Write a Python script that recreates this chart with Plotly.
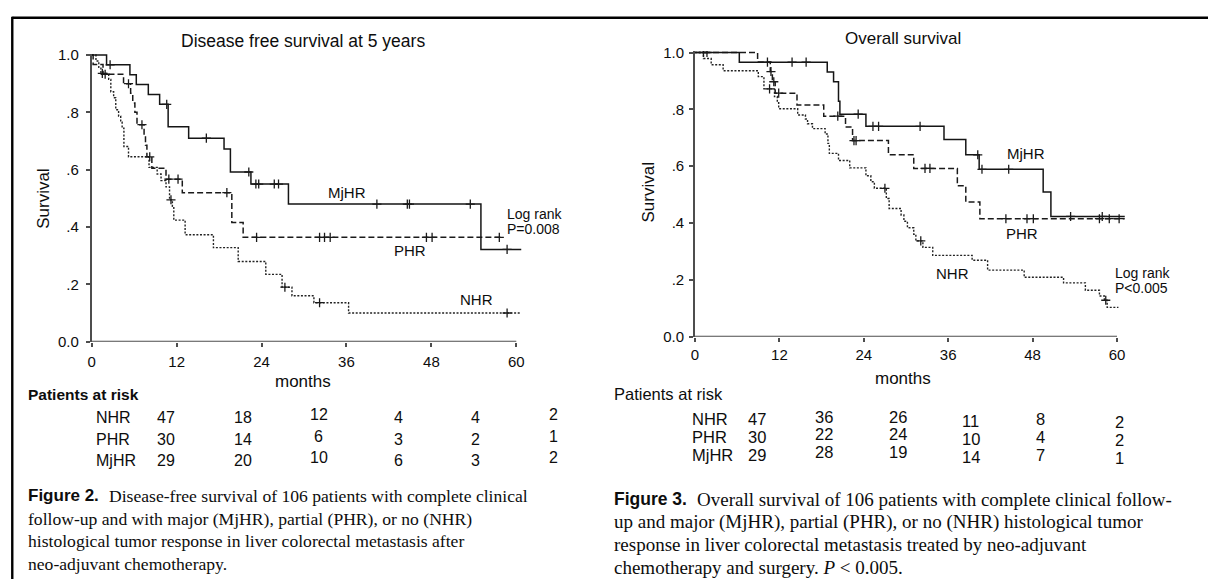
import numpy as np
import plotly.graph_objects as go

# ------------------------------------------------------------------ data
MONTH_TICKS = [0, 12, 24, 36, 48, 60]
SURV_TICKS = [0.0, 0.2, 0.4, 0.6, 0.8, 1.0]
SURV_TICKTEXT = ["0.0", ".2", ".4", ".6", ".8", "1.0"]
GROUPS = ["NHR", "PHR", "MjHR"]

# Figure 2 - disease free survival (Kaplan-Meier steps: time, survival)
dfs_mjhr_t = [0, 2.1, 5.4, 6.3, 8.0, 9.6, 10.8, 13.7, 18.7, 19.6, 22.5, 27.8, 55.0, 60.7]
dfs_mjhr_s = [1.0, 0.966, 0.931, 0.897, 0.862, 0.828, 0.750, 0.710, 0.672, 0.592, 0.550, 0.480, 0.322, 0.322]
dfs_mjhr_cens = [2.6, 10.6, 16.2, 22.2, 23.2, 23.6, 25.8, 26.4, 40.3, 44.6, 44.9, 53.5, 58.7]

dfs_phr_t = [0, 0.2, 1.6, 4.5, 5.5, 5.8, 6.1, 6.4, 7.4, 7.6, 7.8, 8.5, 10.5, 12.8, 19.8, 21.4, 58.1]
dfs_phr_s = [1.0, 0.967, 0.933, 0.900, 0.867, 0.833, 0.800, 0.757, 0.720, 0.685, 0.645, 0.605, 0.567, 0.520, 0.416, 0.364, 0.364]
dfs_phr_cens = [1.9, 5.2, 7.1, 8.2, 10.9, 12.2, 19.1, 23.3, 32.2, 32.9, 33.7, 47.3, 48.1, 57.6]

dfs_nhr_t = [0, 0.6, 1.0, 1.3, 2.4, 2.7, 3.1, 3.4, 3.8, 4.1, 4.3, 4.55, 5.2, 8.1, 9.25, 9.8, 10.5, 11.0, 11.4, 11.6,
             13.2, 17.2, 20.7, 24.6, 26.9, 28.3, 31.4, 36.3, 60.7]
dfs_nhr_s = [1.0, 0.979, 0.957, 0.936, 0.915, 0.872, 0.851, 0.809, 0.787, 0.766, 0.745, 0.681, 0.645, 0.608, 0.585,
             0.562, 0.540, 0.495, 0.472, 0.424, 0.373, 0.328, 0.280, 0.235, 0.190, 0.160, 0.136, 0.100, 0.100]
dfs_nhr_cens = [1.5, 11.2, 27.3, 32.2, 58.7]

dfs_risk_nhr = [47, 18, 12, 4, 4, 2]
dfs_risk_phr = [30, 14, 6, 3, 2, 1]
dfs_risk_mjhr = [29, 20, 10, 6, 3, 2]

# Figure 3 - overall survival
os_mjhr_t = [0, 6.3, 18.8, 19.7, 20.4, 20.6, 24.3, 35.4, 38.5, 40.4, 49.5, 50.6, 61.1]
os_mjhr_s = [1.0, 0.966, 0.931, 0.897, 0.828, 0.783, 0.740, 0.694, 0.640, 0.589, 0.509, 0.423, 0.423]
os_mjhr_cens = [1.2, 10.3, 13.8, 15.8, 23.2, 25.3, 26.1, 32.0, 40.2, 40.8, 44.6, 53.4, 57.9]

os_phr_t = [0, 8.9, 10.7, 11.0, 11.4, 14.5, 18.3, 21.4, 22.4, 27.5, 31.1, 37.3, 38.5, 40.5, 61.1]
os_phr_s = [1.0, 0.967, 0.933, 0.897, 0.857, 0.815, 0.776, 0.738, 0.690, 0.640, 0.592, 0.531, 0.474, 0.415, 0.415]
os_phr_cens = [1.7, 10.8, 11.2, 11.9, 20.3, 22.6, 22.9, 32.7, 33.4, 44.2, 47.2, 48.1, 57.5, 58.9, 60.3]

os_nhr_t = [0, 1.2, 2.3, 4.0, 9.0, 9.8, 11.3, 11.7, 11.9, 14.6, 15.7, 16.0, 16.7, 18.5, 18.9, 19.1, 20.4, 22.0,
            24.3, 25.0, 25.5, 27.2, 27.6, 29.3, 29.7, 30.2, 31.1, 31.4, 32.4, 33.8, 39.4, 41.6, 46.8, 52.4, 55.5,
            57.5, 58.2, 58.6, 60.2]
os_nhr_s = [1.0, 0.979, 0.957, 0.936, 0.915, 0.872, 0.845, 0.823, 0.802, 0.780, 0.766, 0.749, 0.732, 0.713, 0.680,
            0.645, 0.620, 0.594, 0.566, 0.545, 0.522, 0.486, 0.451, 0.428, 0.406, 0.383, 0.360, 0.337, 0.314, 0.286,
            0.269, 0.234, 0.209, 0.189, 0.163, 0.143, 0.128, 0.103, 0.103]
os_nhr_cens = [10.6, 27.0, 32.1, 58.4]

os_risk_nhr = [47, 36, 26, 11, 8, 2]
os_risk_phr = [30, 22, 24, 10, 4, 2]
os_risk_mjhr = [29, 28, 19, 14, 7, 1]

# ------------------------------------------------------------------ layout helpers
W, H = 1208, 585
SANS = "Liberation Sans, Arial, sans-serif"
SERIF = "Liberation Serif, Times New Roman, serif"
INK = "#0d0d0d"
AX = "#4d4d4d"
DX = -5  # left-anchored text offset correction


def pxx(x):
    return x / W


def pxy(y):
    return 1 - y / H


def step_at(t, s, c):
    t = np.asarray(t)
    s = np.asarray(s)
    idx = np.searchsorted(t, np.asarray(c), side="right") - 1
    return s[idx]


STYLES = {
    "MjHR": dict(color="#151515", width=1.5, dash="solid"),
    "PHR": dict(color="#1a1a1a", width=1.5, dash="6px,3px"),
    "NHR": dict(color="#222222", width=1.4, dash="2px,1.6px"),
}

fig = go.Figure()

panels = [
    ("x", "y", {"MjHR": (dfs_mjhr_t, dfs_mjhr_s, dfs_mjhr_cens),
                "PHR": (dfs_phr_t, dfs_phr_s, dfs_phr_cens),
                "NHR": (dfs_nhr_t, dfs_nhr_s, dfs_nhr_cens)}),
    ("x2", "y2", {"MjHR": (os_mjhr_t, os_mjhr_s, os_mjhr_cens),
                  "PHR": (os_phr_t, os_phr_s, os_phr_cens),
                  "NHR": (os_nhr_t, os_nhr_s, os_nhr_cens)}),
]

for xa, ya, series in panels:
    for g in ["NHR", "PHR", "MjHR"]:
        t, s, c = series[g]
        fig.add_trace(go.Scatter(x=t, y=s, mode="lines", line_shape="hv", line=STYLES[g],
                                 xaxis=xa, yaxis=ya, showlegend=False, hoverinfo="skip"))
        fig.add_trace(go.Scatter(x=c, y=step_at(t, s, c), mode="markers",
                                 marker=dict(symbol="cross-thin", size=6.5, color="#1a1a1a",
                                             line=dict(width=1.3, color="#1a1a1a")),
                                 xaxis=xa, yaxis=ya, showlegend=False, hoverinfo="skip"))

XR = [0, 61.5]
YR = [0, 1.005]
# plot areas in pixels: (x of month 0, px per month, y of 0, px per unit)
L = dict(x0=88.0, kx=7.10, y0=343.5, ky=294.2)
R = dict(x0=693.3, kx=7.057, y0=338.3, ky=291.6)


def dom(p):
    xd = [pxx(p["x0"]), pxx(p["x0"] + XR[1] * p["kx"])]
    yd = [pxy(p["y0"]), pxy(p["y0"] - YR[1] * p["ky"])]
    return xd, yd


lxd, lyd = dom(L)
rxd, ryd = dom(R)

tickfont = dict(family=SANS, size=15, color=INK)
xcommon = dict(range=XR, tickvals=MONTH_TICKS, ticks="outside", ticklen=4, tickcolor=AX, tickwidth=1.5,
               showline=False, showgrid=False, zeroline=False, tickfont=tickfont, fixedrange=True)
ycommon = dict(range=YR, tickvals=SURV_TICKS, ticktext=SURV_TICKTEXT, ticks="outside", ticklen=4,
               tickcolor=AX, tickwidth=1.5, showline=True, linecolor=AX, linewidth=1.7,
               showgrid=False, zeroline=False, tickfont=tickfont, fixedrange=True)

fig.update_layout(
    width=W, height=H, margin=dict(l=0, r=0, t=0, b=0),
    paper_bgcolor="white", plot_bgcolor="rgba(0,0,0,0)",
    xaxis=dict(domain=lxd, anchor="y", ticklabelstandoff=2, **xcommon),
    yaxis=dict(domain=lyd, anchor="x", ticklabelstandoff=4, **ycommon),
    xaxis2=dict(domain=rxd, anchor="y2", ticklabelstandoff=0, **xcommon),
    yaxis2=dict(domain=ryd, anchor="x2", ticklabelstandoff=2, **ycommon),
)

shapes = []
# x axis lines (0..60 months)
for xr, yr in [("x", "y"), ("x2", "y2")]:
    shapes.append(dict(type="line", xref=xr, yref=yr, x0=0, x1=MONTH_TICKS[-1], y0=0, y1=0,
                       line=dict(color=AX, width=1.7)))
# scan frame
shapes.append(dict(type="line", xref="paper", yref="paper", x0=pxx(8.3), x1=pxx(W), y0=pxy(11), y1=pxy(11),
                   line=dict(color="black", width=2.4)))
shapes.append(dict(type="line", xref="paper", yref="paper", x0=pxx(8.3), x1=pxx(8.3), y0=pxy(10), y1=pxy(H + 2),
                   line=dict(color="black", width=2.4)))
fig.update_layout(shapes=shapes)

ann = []


def text(x, y, s, size=15, family=SANS, xanchor="center", angle=0, xref="paper", yref="paper"):
    if xref == "paper":
        x = pxx(x + (DX if xanchor == "left" else 0))
    if yref == "paper":
        y = pxy(y)
    ann.append(dict(x=x, y=y, xref=xref, yref=yref, text=s, showarrow=False, xanchor=xanchor,
                    yanchor="middle", textangle=angle, font=dict(family=family, size=size, color=INK)))


# titles and axis titles
text(300, 35, "Disease free survival at 5 years", size=17.5)
text(902, 32, "Overall survival", size=17)
text(40, 197, "Survival", size=17, angle=-90)
text(646.5, 190, "Survival", size=17, angle=-90)
text(300, 384, "months", size=17)
text(902, 381, "months", size=17)

# curve labels (data coordinates)
text(36.1, 0.522, "MjHR", size=15, xref="x", yref="y")
text(45.0, 0.318, "PHR", size=15, xref="x", yref="y")
text(54.4, 0.148, "NHR", size=15, xref="x", yref="y")
text(58.4, 0.445, "Log rank", size=14, xanchor="left", xref="x", yref="y")
text(58.4, 0.392, "P=0.008", size=14, xanchor="left", xref="x", yref="y")

text(47.0, 0.646, "MjHR", size=15, xref="x2", yref="y2")
text(46.5, 0.362, "PHR", size=15, xref="x2", yref="y2")
text(36.6, 0.223, "NHR", size=15, xref="x2", yref="y2")
text(59.4, 0.223, "Log rank", size=14, xanchor="left", xref="x2", yref="y2")
text(59.4, 0.171, "P&lt;0.005", size=14, xanchor="left", xref="x2", yref="y2")

# patients at risk tables
text(27.5, 398, "<b>Patients at risk</b>", size=15.5, xanchor="left")
text(615.5, 396.7, "Patients at risk", size=16.5, xanchor="left")

left_rows = [("NHR", dfs_risk_nhr), ("PHR", dfs_risk_phr), ("MjHR", dfs_risk_mjhr)]
right_rows = [("NHR", os_risk_nhr), ("PHR", os_risk_phr), ("MjHR", os_risk_mjhr)]
left_cols = [162.6, 240.0, 315.7, 396.0, 473.4, 551.0]
left_dy = [0, 0, -3, 0, 0, -3]
right_cols = [755.0, 823.0, 896.6, 970.0, 1040.0, 1119.6]
right_dy = [0, -3, -3, 2, 0, 3]
for i, (g, vals) in enumerate(left_rows):
    y = 421.7 + i * 21.7
    text(95.7, y, g, size=16, xanchor="left")
    for j, v in enumerate(vals):
        text(left_cols[j], y + left_dy[j], str(v), size=16)
for i, (g, vals) in enumerate(right_rows):
    y = 423.3 + i * 18.3
    text(693.0, y, g, size=16.5, xanchor="left")
    for j, v in enumerate(vals):
        text(right_cols[j], y + right_dy[j], str(v), size=16.5)

# captions
text(27, 501.7, "<b>Figure 2.</b>", size=17, xanchor="left")
left_cap = ["Disease-free survival of 106 patients with complete clinical",
            "follow-up and with major (MjHR), partial (PHR), or no (NHR)",
            "histological tumor response in liver colorectal metastasis after",
            "neo-adjuvant chemotherapy."]
text(108, 501.7, left_cap[0], size=17.6, family=SERIF, xanchor="left")
for i, line in enumerate(left_cap[1:]):
    text(27, 525 + i * 23.3, line, size=17.6, family=SERIF, xanchor="left")

text(615.5, 505, "<b>Figure 3.</b>", size=17.5, xanchor="left")
right_cap = ["Overall survival of 106 patients with complete clinical follow-",
             "up and major (MjHR), partial (PHR), or no (NHR) histological tumor",
             "response in liver colorectal metastasis treated by neo-adjuvant",
             "chemotherapy and surgery. <i>P</i> &lt; 0.005."]
text(698, 505, right_cap[0], size=19, family=SERIF, xanchor="left")
for i, line in enumerate(right_cap[1:]):
    text(615.5, 528.3 + i * 23.3, line, size=19, family=SERIF, xanchor="left")

fig.update_layout(annotations=ann)

fig.write_html("out.html", config={"displayModeBar": False},
               post_script="document.body.style.margin='0px';document.body.style.overflow='hidden';")
